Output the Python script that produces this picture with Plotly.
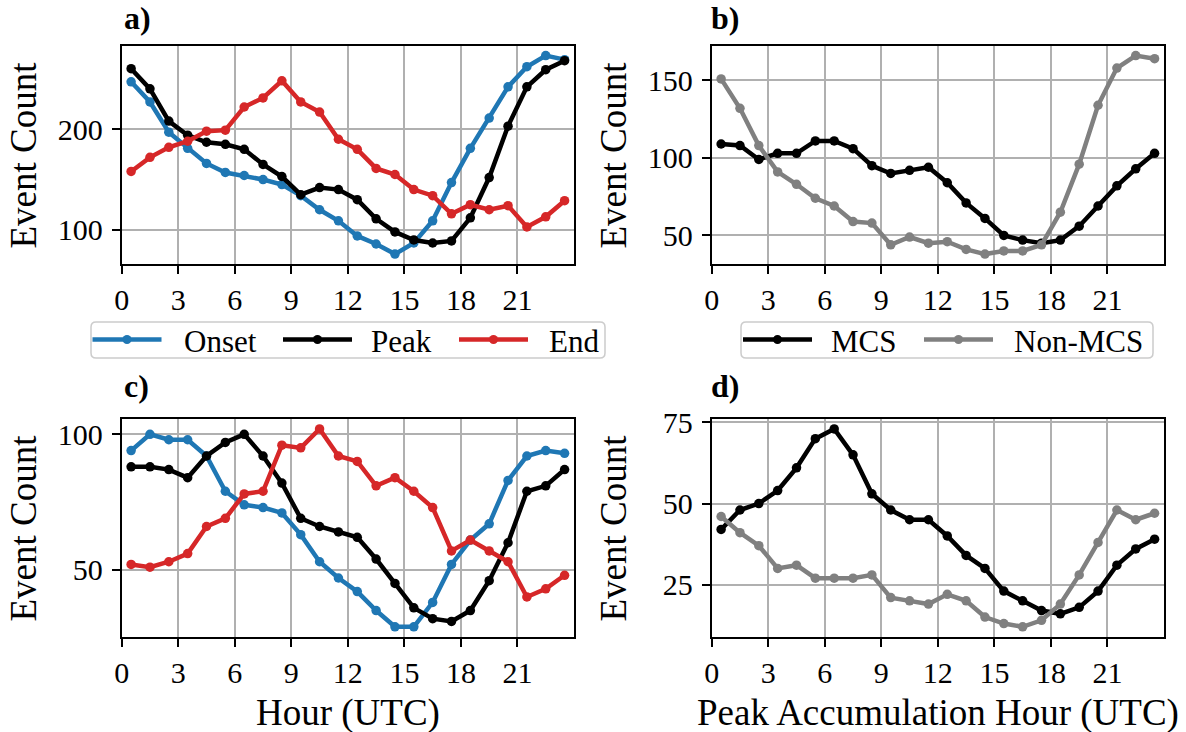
import plotly.graph_objects as go

hours = [h + 0.5 for h in range(24)]
x_ticks = [0, 3, 6, 9, 12, 15, 18, 21]

# Panel a
a_onset = [247,227,197,181,166,157,154,150,145,134,120,109,94,86,76,87,109,147,181,211,242,262,273,269]
a_peak = [260,240,208,194,187,185,180,165,153,135,142,140,130,111,98,90,87,89,112,152,203,242,259,268]
a_end = [158,172,182,188,198,199,222,231,248,227,217,190,180,161,155,140,134,116,125,120,124,103,113,129]
# Panel b
b_mcs = [109,108,99,103,103,111,111,106,95,90,92,94,84,71,61,50,47,45,47,56,69,82,93,103]
b_non = [151,132,108,91,83,74,69,59,58,44,49,45,46,41,38,40,40,44,65,96,134,158,166,164]
# Panel c
c_onset = [94,100,98,98,92,79,74,73,71,63,53,47,42,35,29,29,38,52,61,67,83,92,94,93]
c_peak = [88,88,87,84,92,97,100,92,82,69,66,64,62,54,45,36,32,31,35,46,60,79,81,87]
c_end = [52,51,53,56,66,69,78,79,96,95,102,92,90,81,84,79,73,57,61,57,53,40,43,48]
# Panel d
d_mcs = [42,48,50,54,61,70,73,65,53,48,45,45,40,34,30,23,20,17,16,18,23,31,36,39]
d_non = [46,41,37,30,31,27,27,27,28,21,20,19,22,20,15,13,12,14,19,28,38,48,45,47]

a_yticks = [100, 200]
b_yticks = [50, 100, 150]
c_yticks = [50, 100]
d_yticks = [25, 50, 75]

BLUE = "#1f77b4"
BLACK = "#000000"
RED = "#d62728"
GRAY = "#808080"
FONT = "Liberation Serif"

W, H = 1186, 732


def px(xp):
    return xp / W


def py(yp):
    return 1 - yp / H


# pixel boxes of panels: (left, right, top, bottom)
boxes = {
    "a": (121.7, 574.0, 45.7, 264.0),
    "b": (711.7, 1164.0, 45.7, 264.0),
    "c": (121.7, 574.0, 419.0, 636.7),
    "d": (711.7, 1164.0, 419.0, 636.7),
}

fig = go.Figure()

panels = [
    ("a", "x", "y", [("Onset", a_onset, BLUE), ("Peak", a_peak, BLACK), ("End", a_end, RED)], a_yticks),
    ("b", "x2", "y2", [("MCS", b_mcs, BLACK), ("Non-MCS", b_non, GRAY)], b_yticks),
    ("c", "x3", "y3", [("Onset", c_onset, BLUE), ("Peak", c_peak, BLACK), ("End", c_end, RED)], c_yticks),
    ("d", "x4", "y4", [("MCS", d_mcs, BLACK), ("Non-MCS", d_non, GRAY)], d_yticks),
]

axis_common = dict(
    showgrid=True, gridcolor="#b0b0b0", gridwidth=1.5,
    showline=True, linecolor="black", linewidth=2, mirror=True,
    ticks="outside", ticklen=8, tickwidth=2, tickcolor="black",
    tickfont=dict(family=FONT, size=30, color="black"), zeroline=False,
    automargin=False,
)

layout = {}
for key, xa, ya, series, yticks in panels:
    allv = []
    for name, vals, col in series:
        allv += vals
        fig.add_trace(go.Scatter(
            x=hours, y=vals, mode="lines+markers", name=name,
            line=dict(color=col, width=4.5), marker=dict(color=col, size=9.5),
            xaxis=xa, yaxis=ya, showlegend=False,
        ))
    lo, hi = min(allv), max(allv)
    pad = 0.05 * (hi - lo)
    l, r, t, b = boxes[key]
    xname = "xaxis" + xa[1:]
    yname = "yaxis" + ya[1:]
    layout[xname] = dict(
        domain=[px(l), px(r)], range=[0, 24], anchor=ya,
        tickmode="array", tickvals=x_ticks, ticktext=[str(v) for v in x_ticks],
        **axis_common,
    )
    layout[yname] = dict(
        domain=[py(b), py(t)], range=[lo - pad, hi + pad], anchor=xa,
        tickmode="array", tickvals=yticks, ticktext=[str(v) for v in yticks],
        ticklabelstandoff=3,
        **axis_common,
    )

annotations = []
label_pos = {"a": (122, 38), "b": (709, 38), "c": (122, 406), "d": (709, 406)}
for key in ["a", "b", "c", "d"]:
    l, r, t, b = boxes[key]
    lx, lyb = label_pos[key]
    annotations.append(dict(
        x=px(lx), y=py(lyb), xref="paper", yref="paper",
        xanchor="left", yanchor="bottom", text="<b>" + key + ")</b>", showarrow=False,
        font=dict(family=FONT, size=32, color="black"),
    ))
    annotations.append(dict(
        x=px(l - 98), y=py((t + b) / 2), xref="paper", yref="paper",
        xanchor="center", yanchor="middle", text="Event Count", textangle=-90, showarrow=False,
        font=dict(family=FONT, size=37, color="black"),
    ))

for key, label in [("c", "Hour (UTC)"), ("d", "Peak Accumulation Hour (UTC)")]:
    l, r, t, b = boxes[key]
    annotations.append(dict(
        x=px((l + r) / 2), y=py(713), xref="paper", yref="paper",
        xanchor="center", yanchor="middle", text=label, showarrow=False,
        font=dict(family=FONT, size=37, color="black"),
    ))

# custom legends (pixel layout)
shapes = []
legend_specs = [
    ((91, 605), [("Onset", BLUE, 92.5, 182), ("Peak", BLACK, 283, 369), ("End", RED, 459, 547)]),
    ((741, 1153), [("MCS", BLACK, 743, 829), ("Non-MCS", GRAY, 924, 1012)]),
]
LY0, LY1 = 322, 358
LYC = 339.5
R = 5
for (bx0, bx1), items in legend_specs:
    x0, x1, y0, y1 = px(bx0), px(bx1), py(LY0), py(LY1)
    rx, ry = R / W, R / H
    path = (f"M {x0+rx},{y0} L {x1-rx},{y0} Q {x1},{y0} {x1},{y0-ry} "
            f"L {x1},{y1+ry} Q {x1},{y1} {x1-rx},{y1} L {x0+rx},{y1} "
            f"Q {x0},{y1} {x0},{y1+ry} L {x0},{y0-ry} Q {x0},{y0} {x0+rx},{y0} Z")
    shapes.append(dict(type="path", path=path, xref="paper", yref="paper",
                       line=dict(color="#cccccc", width=1.5), fillcolor="white", layer="above"))
    for name, col, lx0, tx in items:
        lx1 = lx0 + 69
        shapes.append(dict(type="line", xref="paper", yref="paper",
                           x0=px(lx0), x1=px(lx1), y0=py(LYC), y1=py(LYC),
                           line=dict(color=col, width=4.5), layer="above"))
        cx = (lx0 + lx1) / 2
        shapes.append(dict(type="circle", xref="paper", yref="paper",
                           x0=px(cx - 4.5), x1=px(cx + 4.5), y0=py(LYC - 4.5), y1=py(LYC + 4.5),
                           line=dict(color=col, width=0), fillcolor=col, layer="above"))
        annotations.append(dict(
            x=px(tx), y=py(LYC + 1.5), xref="paper", yref="paper",
            xanchor="left", yanchor="middle", text=name, showarrow=False,
            font=dict(family=FONT, size=31, color="black"),
        ))

fig.update_layout(
    width=W, height=H, margin=dict(l=0, r=0, t=0, b=0),
    paper_bgcolor="white", plot_bgcolor="white",
    annotations=annotations, shapes=shapes, showlegend=False,
    **layout,
)

fig.write_html("out.html")
